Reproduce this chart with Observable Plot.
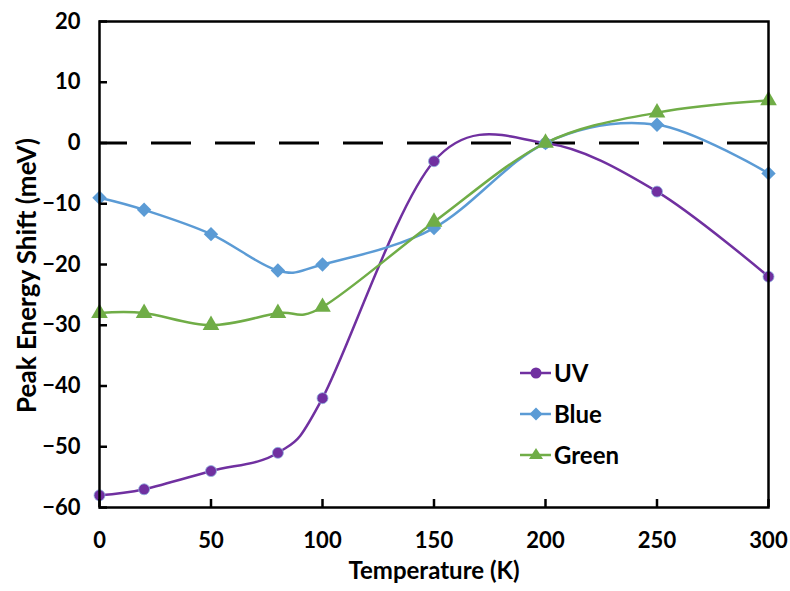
<!DOCTYPE html>
<html>
<head>
<meta charset="utf-8">
<script src="https://cdn.jsdelivr.net/npm/d3@7"></script>
<script src="https://cdn.jsdelivr.net/npm/@observablehq/plot@0.6"></script>
<style>
  html, body { margin: 0; padding: 0; background: #fff; }
  #wrap { position: relative; width: 790px; height: 591px; font-family: Lato, "Open Sans", sans-serif; }
  #legend { position: absolute; left: 519px; top: 352px; }
  .item { display: flex; align-items: center; height: 41px; font-weight: bold; font-size: 24px; color: #000; }
  .item svg { margin-right: 3px; }
</style>
</head>
<body>
<div id="wrap"></div>
<script>
const temps = [0, 20, 50, 80, 100, 150, 200, 250, 300];
const uv    = [-58, -57, -54, -51, -42, -3, 0, -8, -22];
const blue  = [-9, -11, -15, -21, -20, -14, 0, 3, -5];
const green = [-28, -28, -30, -28, -27, -13, 0, 5, 7];
const seriesNames = ["UV", "Blue", "Green"];
const seriesColors = ["#7030A0", "#5B9BD5", "#70AD47"];
const seriesSymbols = ["circle", "diamond2", "triangle"];
const xTicks = [0, 50, 100, 150, 200, 250, 300];
const yTicks = [20, 10, 0, -10, -20, -30, -40, -50, -60];

const values = [uv, blue, green];
const data = [];
seriesNames.forEach((s, i) => temps.forEach((t, j) => data.push({series: s, temp: t, shift: values[i][j]})));
const sizes = [5.5, 6.5, 6.2];

const font = "Lato, 'Open Sans', sans-serif";
const chart = Plot.plot({
  width: 790,
  height: 591,
  marginLeft: 99,
  marginRight: 22,
  marginTop: 21,
  marginBottom: 84,
  style: {fontFamily: font, background: "#fff", color: "#000", overflow: "visible"},
  x: {domain: [0, 300]},
  y: {domain: [-60, 20]},
  marks: [
    Plot.ruleY([0], {stroke: "#000", strokeWidth: 3, strokeDasharray: "40,24", strokeDashoffset: 12}),
    ...seriesNames.map((s, i) => Plot.line(data.filter(d => d.series === s), {x: "temp", y: "shift", stroke: seriesColors[i], curve: "cardinal", tension: 0, strokeWidth: 2.5})),
    ...seriesNames.map((s, i) => Plot.dot(data.filter(d => d.series === s), {x: "temp", y: "shift", fill: seriesColors[i], symbol: seriesSymbols[i], r: sizes[i], stroke: i === 0 ? "#8fb4e0" : "none", strokeWidth: 0.8})),
    Plot.frame({stroke: "#000", strokeWidth: 2.5}),
    Plot.axisX(xTicks, {ticks: xTicks, tickSize: 8, dy: -8, fill: "none", stroke: "#000", strokeWidth: 2.5, label: null}),
    Plot.axisY(yTicks, {ticks: yTicks, tickSize: 8, dx: 8, fill: "none", stroke: "#000", strokeWidth: 2.5, label: null}),
    Plot.axisX(xTicks, {ticks: xTicks, tickSize: 0, tickPadding: 25, fontSize: 22, fontWeight: "bold", fill: "#000", label: null}),
    Plot.axisY(yTicks, {ticks: yTicks, tickSize: 0, tickPadding: 19, fontSize: 22, fontWeight: "bold", fill: "#000", label: null}),
    Plot.text(["Temperature (K)"], {frameAnchor: "bottom", dy: 71, fontSize: 24, fontWeight: "bold", fill: "#000"}),
    Plot.text(["Peak Energy Shift (meV)"], {frameAnchor: "left", textAnchor: "middle", lineAnchor: "middle", dx: -72, dy: 11, rotate: -90, fontSize: 26, fontWeight: "bold", fill: "#000"})
  ]
});

const wrap = document.getElementById("wrap");
wrap.appendChild(chart);

const legend = document.createElement("div");
legend.id = "legend";
const shapes = {
  circle: '<circle cx="17" cy="10" r="5.5" />',
  diamond2: '<path d="M17,3.5 L23.5,10 L17,16.5 L10.5,10 Z" />',
  triangle: '<path d="M17,3 L24,14 L10,14 Z" />'
};
seriesNames.forEach((s, i) => {
  const item = document.createElement("div");
  item.className = "item";
  item.innerHTML = `<svg width="32" height="20"><line x1="1" x2="32" y1="10" y2="10" stroke="${seriesColors[i]}" stroke-width="2.5"/><g fill="${seriesColors[i]}">${shapes[seriesSymbols[i]]}</g></svg><span>${s}</span>`;
  legend.appendChild(item);
});
wrap.appendChild(legend);
</script>
</body>
</html>
